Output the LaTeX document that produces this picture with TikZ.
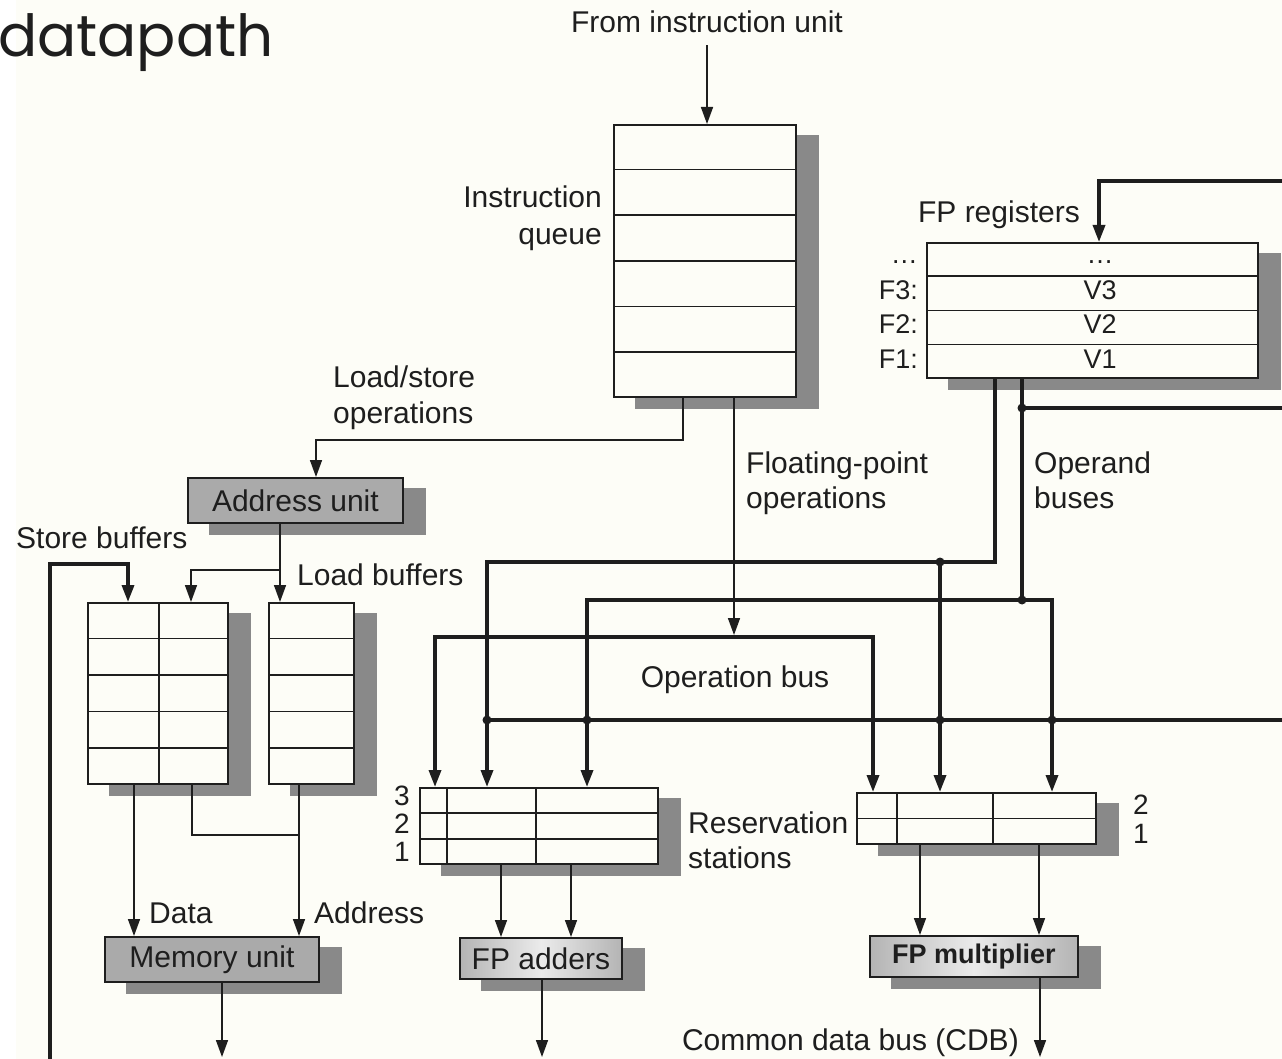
\documentclass[tikz,border=0pt]{standalone}
\usepackage{fontspec}
\setmainfont{Liberation Sans}
\newfontfamily\titlefont{Poppins}
\usetikzlibrary{arrows.meta,calc,backgrounds}

\definecolor{paper}{RGB}{253,253,247}
\definecolor{ink}{RGB}{30,30,30}
\definecolor{shadowgray}{RGB}{137,137,137}
\definecolor{unitgray}{RGB}{170,170,170}
\definecolor{shinyedge}{RGB}{180,180,180}
\definecolor{shinymid}{RGB}{235,235,235}

% flat drop shadow behind a box node, offset right and down
\newcommand\castshadow[1]{%
  \fill[shadowgray] ($(#1.north west)+(22,11)$) rectangle ($(#1.south east)+(22,11)$);}

\begin{document}
\begin{tikzpicture}[x=1pt, y=-1pt, color=ink,
  font=\fontsize{30}{37}\selectfont,
  >={Triangle[length=17pt,width=12pt]},
  wire/.style={line width=1.6pt},
  bus/.style={line width=3.4pt},
  cell/.style={rectangle, anchor=north west, inner sep=0pt, line width=1.8pt, draw=ink, fill=paper},
  unit/.style={cell, fill=unitgray},
  shiny/.style={cell, left color=shinyedge, right color=shinyedge, middle color=shinymid},
  lbl/.style={inner sep=0pt},
  small/.style={font=\fontsize{27}{30}\selectfont},
  digit/.style={font=\fontsize{28}{28}\selectfont}]

\useasboundingbox (0,0) rectangle (1282,1059);
\begin{scope}[on background layer]
  \fill[paper] (0,0) rectangle (1282,1059);
  \fill[white] (0,0) rectangle (16,1059);
\end{scope}

% heading
\node[lbl, anchor=base west, font=\titlefont\fontsize{58}{60}\selectfont] (title) at (-2,57) {datapath};

% ---------- boxes ----------
% instruction queue
\node[cell, minimum width=182pt, minimum height=272pt] (iq) at (613,124) {};
\foreach \k in {1,...,5}
  \draw[wire] ($(iq.north west)!\k/6!(iq.south west)$) -- ($(iq.north east)!\k/6!(iq.south east)$);

% FP register file
\node[cell, minimum width=331pt, minimum height=135pt] (fr) at (926,242) {};
\foreach \k in {1,2,3}
  \draw[wire] ($(fr.north west)!\k/4!(fr.south west)$) -- ($(fr.north east)!\k/4!(fr.south east)$);
\foreach \t/\y [count=\k] in {…/264, F3:/299, F2:/333, F1:/368}
  \node[lbl, small, anchor=base east] (fname\k) at (918,\y) {\t};
\foreach \t/\y [count=\k] in {…/264, V3/299, V2/333, V1/368}
  \node[lbl, small, anchor=base] (fval\k) at (1100,\y) {\t};

% address unit
\node[unit, minimum width=215pt, minimum height=45pt] (au) at (187,477) {Address unit};

% store and load buffers
\node[cell, minimum width=140pt, minimum height=181pt] (sb) at (87,602) {};
\node[cell, minimum width=85pt, minimum height=181pt] (lb) at (268,602) {};
\foreach \k in {1,...,4} {
  \draw[wire] ($(sb.north west)!\k/5!(sb.south west)$) -- ($(sb.north east)!\k/5!(sb.south east)$);
  \draw[wire] ($(lb.north west)!\k/5!(lb.south west)$) -- ($(lb.north east)!\k/5!(lb.south east)$);
}
\draw[wire] (159,0 |- sb.north) -- (159,0 |- sb.south);

% memory unit
\node[unit, minimum width=214pt, minimum height=45pt] (mu) at (104,936) {Memory unit};

% reservation stations
\node[cell, minimum width=238pt, minimum height=76pt] (ars) at (419,787) {};
\foreach \k in {1,2}
  \draw[wire] ($(ars.north west)!\k/3!(ars.south west)$) -- ($(ars.north east)!\k/3!(ars.south east)$);
\draw[wire] (447,0 |- ars.north) -- (447,0 |- ars.south);
\draw[wire] (536,0 |- ars.north) -- (536,0 |- ars.south);

\node[cell, minimum width=239pt, minimum height=51pt] (mrs) at (856,792) {};
\draw[wire] ($(mrs.north west)!.5!(mrs.south west)$) -- ($(mrs.north east)!.5!(mrs.south east)$);
\draw[wire] (897,0 |- mrs.north) -- (897,0 |- mrs.south);
\draw[wire] (993,0 |- mrs.north) -- (993,0 |- mrs.south);

% functional units
\node[shiny, minimum width=162pt, minimum height=41pt] (fa) at (459,937) {FP adders};
\node[shiny, minimum width=208pt, minimum height=41pt,
      font=\bfseries\fontsize{27}{30}\selectfont] (fm) at (869,935) {FP multiplier};

% ---------- labels ----------
\node[lbl, anchor=base] (src) at (707,33) {From instruction unit};
\node[lbl, anchor=base east] (iql1) at (602,208) {Instruction};
\node[lbl, anchor=base east] (iql2) at (602,245) {queue};
\node[lbl, anchor=base east] (frl) at (1080,223) {FP registers};
\node[lbl, anchor=base west] (lsl1) at (333,387) {Load/store};
\node[lbl, anchor=base west] (lsl2) at (333,423) {operations};
\node[lbl, anchor=base west] (fpl1) at (746,473) {Floating-point};
\node[lbl, anchor=base west] (fpl2) at (746,508) {operations};
\node[lbl, anchor=base west] (obl1) at (1034,473) {Operand};
\node[lbl, anchor=base west] (obl2) at (1034,508) {buses};
\node[lbl, anchor=base west] (sbl) at (16,548) {Store buffers};
\node[lbl, anchor=base west] (lbt) at (297,585) {Load buffers};
\node[lbl, anchor=base] (opl) at (735,687) {Operation bus};
\node[lbl, anchor=base west] (rsl1) at (688,833) {Reservation};
\node[lbl, anchor=base west] (rsl2) at (688,868) {stations};
\node[lbl, anchor=base west] (datal) at (149,923) {Data};
\node[lbl, anchor=base west] (addrl) at (314,923) {Address};
\node[lbl, anchor=base east] (cdbl) at (1019,1050) {Common data bus (CDB)};
\node[lbl, digit, anchor=base east] (ars3) at (410,805) {3};
\node[lbl, digit, anchor=base east] (ars2) at (410,833) {2};
\node[lbl, digit, anchor=base east] (ars1) at (410,861) {1};
\node[lbl, digit, anchor=base west] (mrs2) at (1133,814) {2};
\node[lbl, digit, anchor=base west] (mrs1) at (1133,843) {1};

% ---------- connectors ----------
\draw[wire,->] ([yshift=-12pt]src.south) -- (src.south |- iq.north);
\draw[wire,->] (683,0 |- iq.south) |- (316,440) -- (316,0 |- au.north);
\draw[wire,->] (734,0 |- iq.south) -- (734,635);

\draw[wire,->] (280,0 |- au.south) -- (280,0 |- lb.north);
\draw[wire,->] (280,570) -| (191,0 |- sb.north);
\draw[bus,->] (50,1059) |- (128,564) -- (128,0 |- sb.north);

\draw[wire,->] (134,0 |- sb.south) -- (134,0 |- mu.north);
\draw[wire] (192,0 |- sb.south) |- (299,835);
\draw[wire,->] (299,0 |- lb.south) -- (299,0 |- mu.north);
\draw[wire,->] (222,0 |- mu.south) -- (222,1057);

% result bus back into the register file
\draw[bus,->] (1282,181) -| (1099,0 |- fr.north);

% operand buses
\coordinate (j1) at (940,562);
\coordinate (j2) at (1022,600);
\coordinate (j3) at (1022,408);
\draw[bus,->] (995,0 |- fr.south) |- (487,562) -- (487,0 |- ars.north);
\draw[bus,->] (j1) -- (940,0 |- mrs.north);
\draw[bus] (1022,0 |- fr.south) -- (j2);
\draw[bus,<->] (587,0 |- ars.north) |- (1052,600) -- (1052,0 |- mrs.north);
\draw[bus] (j3) -- (1282,408);

% operation bus
\draw[bus,<->] (435,0 |- ars.north) |- (873,637) -- (873,0 |- mrs.north);

% common data bus into the reservation stations
\coordinate (c1) at (487,720);
\coordinate (c2) at (587,720);
\coordinate (c3) at (940,720);
\coordinate (c4) at (1052,720);
\draw[bus] (c1) -- (1282,720);

% reservation stations to functional units, units to CDB
\draw[wire,->] (501,0 |- ars.south) -- (501,0 |- fa.north);
\draw[wire,->] (571,0 |- ars.south) -- (571,0 |- fa.north);
\draw[wire,->] (920,0 |- mrs.south) -- (920,0 |- fm.north);
\draw[wire,->] (1039,0 |- mrs.south) -- (1039,0 |- fm.north);
\draw[wire,->] (542,0 |- fa.south) -- (542,1057);
\draw[wire,->] (1040,0 |- fm.south) -- (1040,1057);

% junction dots
\foreach \j in {j1,j2,j3,c1,c2,c3,c4}
  \fill (\j) circle (4.5pt);

% box shadows
\begin{scope}[on background layer]
  \foreach \b in {iq,fr,au,sb,lb,mu,ars,mrs,fa,fm}
    \castshadow{\b};
\end{scope}
\end{tikzpicture}
\end{document}
